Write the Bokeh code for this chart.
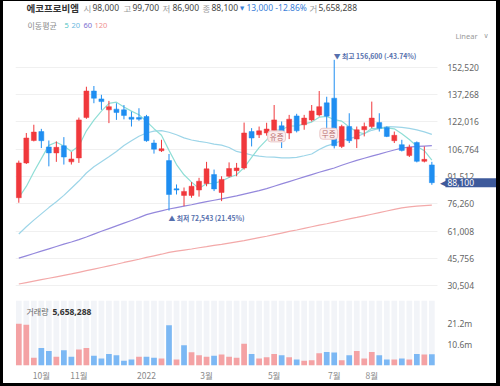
from bokeh.plotting import figure
from bokeh.models import (Range1d, FixedTicker, Label, ColumnDataSource, NumeralTickFormatter,
                          LinearAxis)
from bokeh.layouts import column
from bokeh.embed import file_html
from bokeh.resources import INLINE

# ---------------- data (weekly candles, Sep 2021 - Sep 2022) ----------------
opens = [79700, 99100, 111600, 116600, 108000, 104700, 108700, 99700, 101900, 124400,
         139200, 134800, 128700, 129100, 128700, 124600, 124400, 125000, 110200, 105900,
         100400, 84700, 81000, 81000, 84000, 87600, 92600, 82600, 91700, 94800,
         96300, 116600, 114800, 115800, 117200, 119800, 115800, 125300, 120400, 123100,
         125900, 132600, 135200, 108300, 119400, 112400, 117600, 119400, 121600, 118900,
         111500, 109300, 103200, 110500, 100000, 98000]
highs = [100400, 115800, 120400, 118100, 111600, 111100, 113500, 105200, 124400, 141600,
         142000, 137100, 133700, 132400, 131400, 127700, 129600, 125900, 112000, 112000,
         104100, 87100, 85400, 88400, 90800, 99700, 95400, 91700, 99400, 99100,
         121600, 118500, 119400, 121500, 131400, 122200, 125900, 126500, 125900, 131400,
         139200, 136000, 156600, 120400, 126800, 119400, 121600, 133300, 126800, 119400,
         116600, 112000, 109300, 111100, 108300, 99700]
lows = [76900, 98500, 111100, 107400, 97200, 99700, 98200, 98200, 99100, 123700,
        132400, 128700, 121300, 123100, 123400, 119400, 122600, 110900, 104300, 105200,
        72543, 81500, 75000, 79700, 80300, 86100, 83400, 77800, 91000, 91700,
        95400, 108300, 113000, 114300, 115400, 107400, 112400, 116100, 117600, 122200,
        125000, 113700, 107200, 107400, 110200, 107400, 113900, 118500, 116600, 113500,
        110200, 105500, 102400, 99400, 99400, 86900]
closes = [99100, 113000, 116300, 111500, 104700, 107800, 102400, 101300, 123100, 139200,
          135200, 133300, 130500, 127200, 125600, 123500, 123500, 111500, 106800, 107000,
          81500, 84000, 83200, 86100, 88900, 95800, 84600, 89900, 96000, 96300,
          115800, 113000, 117000, 118000, 123100, 116900, 123500, 117000, 124100, 128100,
          130500, 125200, 108700, 119400, 111500, 117600, 119400, 124100, 118500, 113900,
          114500, 106100, 107800, 100000, 101100, 88100]
volumes = [21.2e6, 20.7e6, 3.9e6, 8.9e6, 7.4e6, 4.5e6, 7.7e6, 4.5e6, 8.1e6, 8.9e6,
           4.9e6, 3.5e6, 5.9e6, 5.2e6, 2.4e6, 3.0e6, 4.5e6, 4.5e6, 3.9e6, 3.5e6,
           20.4e6, 3.0e6, 10.3e6, 6.7e6, 5.2e6, 4.5e6, 4.9e6, 5.6e6, 4.5e6, 3.9e6,
           11.0e6, 5.9e6, 3.5e6, 4.2e6, 5.9e6, 5.2e6, 4.2e6, 3.0e6, 2.4e6, 2.7e6,
           6.2e6, 6.9e6, 6.6e6, 2.7e6, 5.2e6, 7.4e6, 3.5e6, 6.9e6, 5.2e6, 3.0e6,
           3.0e6, 3.5e6, 3.0e6, 5.9e6, 5.6e6, 5658288]
ma5 = [79800, 86000, 94000, 101500, 108900, 110600, 108500, 105500, 108500, 117000,
       123000, 128000, 132300, 133000, 130300, 128000, 126000, 122300, 118200, 114500,
       106100, 98200, 92500, 88400, 84800, 87600, 87700, 89000, 91000, 92500,
       96500, 102200, 107600, 112000, 117400, 117600, 119700, 119700, 120900, 121900,
       124600, 125000, 123300, 122400, 119100, 116500, 115300, 118400, 118200, 118700,
       118100, 115400, 112200, 108400, 105900, 100600]
ma20 = [59500, 63500, 67200, 70700, 74200, 77500, 81000, 85000, 89000, 93500,
        97000, 99800, 102500, 105500, 108800, 111500, 114000, 115800, 116800, 117100,
        116200, 114800, 113100, 111900, 111100, 110500, 109600, 109000, 107700, 105500,
        104600, 103500, 102900, 102400, 102300, 101900, 101900, 102200, 103100, 104100,
        106600, 108600, 109900, 111600, 112700, 113800, 115500, 117300, 118400, 119300,
        119200, 118900, 118400, 117500, 116400, 115000]
ma60 = [46000, 47300, 48600, 49900, 51200, 52500, 53800, 55000, 56300, 57800,
        59400, 61000, 62500, 64000, 65500, 67000, 68600, 70300, 71400, 72400,
        73400, 74200, 75000, 75800, 76700, 77500, 78300, 79100, 79900, 80700,
        81700, 82700, 83700, 84800, 86100, 87400, 88700, 90000, 91300, 92600,
        93900, 95100, 96300, 97800, 99200, 100500, 101700, 102900, 104000, 105200,
        106300, 107400, 107900, 108300, 108500, 108700]
ma120 = [31600, 32400, 33200, 34000, 34800, 35600, 36400, 37200, 38100, 39000,
         39900, 40800, 41700, 42600, 43600, 44500, 45400, 46400, 47300, 48200,
         49200, 49900, 50500, 51100, 51800, 52400, 53100, 53700, 54400, 55100,
         55800, 56600, 57400, 58200, 59100, 60000, 60900, 61700, 62600, 63500,
         64400, 65200, 66100, 67000, 67900, 68700, 69600, 70500, 71400, 72300,
         73200, 74000, 74600, 75000, 75300, 75600]
month_ticks = [3, 8, 17, 25, 34, 42, 47]
month_labels = ["10월", "11월", "2022", "3월", "5월", "7월", "8월"]
price_ticks = [30504, 45756, 61008, 76260, 91512, 106764, 122016, 137268, 152520]
vol_ticks = [10600000, 21200000]
vol_tick_labels = ["10.6m", "21.2m"]
event_idx = [34, 41]
event_text = ["유증", "무증"]
high_idx, low_idx = 42, 20

# ---------------- styling / layout constants ----------------
FK = "Noto Sans CJK KR"
FN = "Noto Sans"
RED, BLUE = "#f0383c", "#1f8ef1"
VRED, VBLUE = "#f4a2a4", "#7cb8f4"
C5, C20, C60, C120 = "#8fded6", "#9dd5e8", "#9488dc", "#f3a9a9"
TAG = "#3e5a9b"
ANN = "#5670ad"

PX = 7.51            # px per candle slot
X0 = -0.44           # data x at the frame's left edge (page x 15)
FL = 15              # frame left on the page
PLOT_R = 437         # right edge of the plotting area on the page
FB = 367             # frame bottom on the page (volume baseline)
X_AXIS = X0 + (PLOT_R - FL) / PX
PPX = 554.6          # won per px in the price pane
VPX = 10.6e6 / 21    # shares per px in the volume pane

n = len(closes)
xs = list(range(n))
cc = [RED if c >= o else BLUE for o, c in zip(opens, closes)]
vc = [VRED] + [VRED if closes[i] >= closes[i - 1] else VBLUE for i in range(1, n)]
src = ColumnDataSource(dict(
    x=xs, h=highs, l=lows,
    top=[max(o, c) for o, c in zip(opens, closes)],
    bot=[min(o, c) for o, c in zip(opens, closes)],
    col=cc, vol=volumes, vcol=vc,
    ma5=ma5, ma20=ma20, ma60=ma60, ma120=ma120))

# one frame (page x 15..496, y 1..367) holding both panes
p = figure(width=493, height=382,
           x_range=Range1d(X0, X0 + (496 - FL) / PX),
           y_range=Range1d(152520 - (FB - 67) * PPX, 152520 + (67 - 1) * PPX),
           output_backend="svg", toolbar_location=None,
           y_axis_location="right", min_border_left=12, min_border_right=0,
           min_border_top=0, min_border_bottom=16)
p.margin = (1, 4, 3, 3)
p.extra_y_ranges = {"vol": Range1d(0, (FB - 1) * VPX)}
p.outline_line_color = None
p.xgrid.visible = False
p.ygrid.ticker = FixedTicker(ticks=price_ticks)
p.ygrid.grid_line_color = "#f0f0f0"
g = p.ygrid[0]
if "cross_bounds" in g.properties():
    g.cross_bounds = (X0, X_AXIS)


def style_axis(a, size="8.5px", color="#666666", font=FN, standoff=10):
    a.axis_line_color = None
    a.major_tick_line_color = None
    a.minor_tick_line_color = None
    a.major_tick_out = 0
    a.major_tick_in = 0
    a.minor_tick_out = 0
    a.major_label_text_font_size = size
    a.major_label_text_color = color
    a.major_label_text_font = font
    a.major_label_standoff = standoff


ax = p.yaxis[0]
ax.ticker = FixedTicker(ticks=price_ticks)
ax.formatter = NumeralTickFormatter(format="0,0")
ax.fixed_location = X_AXIS
style_axis(ax)

vax = LinearAxis(y_range_name="vol", ticker=FixedTicker(ticks=vol_ticks))
vax.major_label_overrides = {t: s for t, s in zip(vol_ticks, vol_tick_labels)}
vax.fixed_location = X_AXIS
style_axis(vax)
p.add_layout(vax, "right")

xax = p.xaxis[0]
xax.ticker = FixedTicker(ticks=month_ticks)
xax.major_label_overrides = {t: s for t, s in zip(month_ticks, month_labels)}
style_axis(xax, color="#8a8a8a", font=FK, standoff=3)

# volume pane
p.vbar(x=xs, width=0.76, top=(FB - 302) * VPX, bottom=0, fill_color="#f2f4f8",
       line_color=None, y_range_name="vol")
p.vbar("x", 0.76, "vol", 0, source=src, fill_color="vcol", line_color=None, y_range_name="vol")

# price pane
for col, c in (("ma120", C120), ("ma60", C60), ("ma20", C20), ("ma5", C5)):
    p.line("x", col, source=src, line_color=c, line_width=1.2)
p.segment("x", "h", "x", "l", source=src, line_color="col", line_width=1)
p.vbar("x", 0.66, "top", "bot", source=src, fill_color="col", line_color="col", line_width=0.5)


def slabel(px, py, text, color, size=8.5, bold=False, font=FK, **kw):
    p.add_layout(Label(x=px - FL, y=FB - py, x_units="screen", y_units="screen",
                       text=text, text_color=color, text_font=font,
                       text_font_size=f"{size}px",
                       text_font_style="bold" if bold else "normal",
                       text_baseline="middle", text_align="left", **kw))


# header
hy = 9
slabel(26, hy, "에코프로비엠", "#333333", 9.5, True)
for px, t, c, f in ((83, "시", "#9a9a9a", FK), (92, "98,000", "#444444", FN),
                    (123, "고", "#9a9a9a", FK), (132, "99,700", "#444444", FN),
                    (162, "저", "#9a9a9a", FK), (172, "86,900", "#444444", FN),
                    (202, "종", "#9a9a9a", FK), (211, "88,100", "#444444", FN),
                    (246, "13,000 -12.86%", "#3a80d8", FN),
                    (309, "거", "#9a9a9a", FK), (318, "5,658,288", "#444444", FN)):
    slabel(px, hy, t, c, 8.5, font=f)
slabel(239.5, hy, "▼", "#3a80d8", 5.5, font="DejaVu Sans")
# MA legend
slabel(27, 26.7, "이동평균", "#8a8a8a", 8)
for px, t, c in ((64, "5", "#50c4c4"), (71, "20", "#6ab8e0"), (83, "60", "#7d70d0"), (94, "120", "#f09090")):
    slabel(px, 26.7, t, c, 7.5, font=FN)
slabel(455, 37, "Linear", "#999999", 7.5, font=FN)
slabel(483, 37.5, "∨", "#999999", 7, font="DejaVu Sans")
# volume title
slabel(26, 313, "거래량", "#666666", 8)
slabel(52, 313, f"{volumes[-1]:,.0f}", "#333333", 8.5, True, font=FN)

# high / low markers
hi = highs[high_idx]
lo = lows[low_idx]
last = closes[-1]
p.add_layout(Label(x=high_idx, y=hi, text=f"▼ 최고 {hi:,} ({(last - hi) / hi * 100:.2f}%)",
                   text_color=ANN, text_font=FK, text_font_size="6.8px", text_font_style="bold",
                   text_baseline="middle", text_align="left", x_offset=-0.5, y_offset=4))
p.add_layout(Label(x=low_idx, y=lo, text=f"▲ 최저 {lo:,} ({(last - lo) / lo * 100:.2f}%)",
                   text_color=ANN, text_font=FK, text_font_size="6.8px", text_font_style="bold",
                   text_baseline="middle", text_align="left", x_offset=-0.5, y_offset=-7))
# events (유증 / 무증 markers)
for i, t, dx, dy in zip(event_idx, event_text, (2.5, 2.0), (-2.7, 3.0)):
    p.add_layout(Label(x=i, y=lows[i], text=t, text_color="#b86a6a", text_font=FK,
                       text_font_size="7.5px", text_baseline="middle", text_align="center",
                       x_offset=dx, y_offset=dy, background_fill_color="#fbeeee",
                       border_line_color="#eac9c9", padding=dict(left=2, right=2, top=0, bottom=0),
                       border_radius=3))
# last price tag
p.add_layout(Label(x=446.5 - FL, y=last, x_units="screen", text="◀", text_color=TAG,
                   text_font="DejaVu Sans", text_font_size="9px", text_baseline="middle",
                   text_align="right"))
p.add_layout(Label(x=445 - FL, y=last, x_units="screen", text=f"{last:,}", text_color="white",
                   text_font=FN, text_font_size="8.5px", text_baseline="middle",
                   text_align="left", background_fill_color=TAG,
                   padding=dict(left=2, right=30, top=1, bottom=1)))

layout = column(p, spacing=0,
                styles={"background-color": "#ffffff",
                        "box-shadow": "inset 3px 1px 0 0 #000000, inset -4px -3px 0 0 #000000"})
open("out.html", "w").write(file_html(layout, INLINE))
